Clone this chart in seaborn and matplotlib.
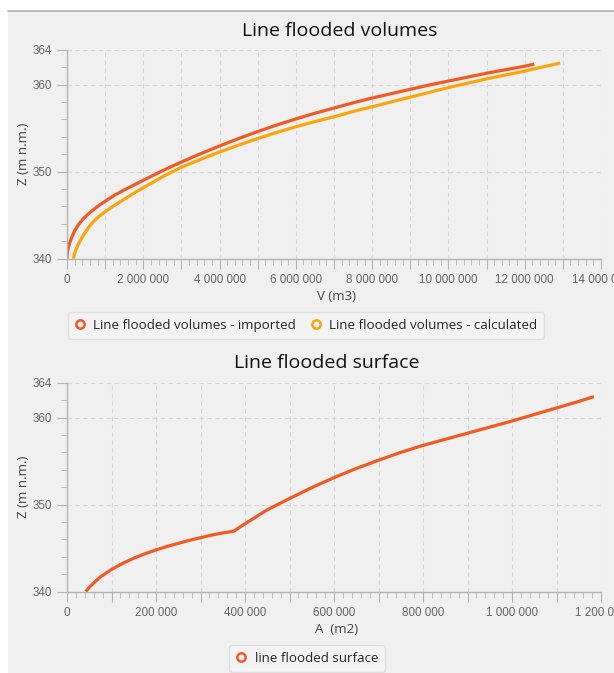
import numpy as np
import pandas as pd
import seaborn as sns
from matplotlib import pyplot as plt
from matplotlib import ticker
from matplotlib.lines import Line2D
from matplotlib.patches import Rectangle

# --- data (V in m3, A in m2, Z in m n.m.) ---
vol_imported_v = [0, 0.01e6, 0.03e6, 0.07e6, 0.12e6, 0.2e6, 0.3e6, 0.42e6, 0.55e6, 0.7e6, 0.85e6,
                  1.0e6, 1.25e6, 1.5e6, 2.0e6, 2.5e6, 3.0e6, 3.5e6, 4.0e6, 4.5e6, 5.0e6, 5.5e6,
                  6.0e6, 6.5e6, 7.0e6, 7.5e6, 8.0e6, 8.5e6, 9.0e6, 9.5e6, 10.0e6, 10.5e6, 11.0e6,
                  11.5e6, 12.0e6, 12.25e6]
vol_imported_z = [340, 340.7, 341.2, 341.8, 342.4, 343.2, 343.9, 344.55, 345.1, 345.65, 346.15,
                  346.6, 347.3, 347.9, 349.0, 350.1, 351.1, 352.05, 352.95, 353.8, 354.6, 355.35,
                  356.05, 356.7, 357.3, 357.9, 358.45, 358.95, 359.45, 359.95, 360.4, 360.85, 361.3,
                  361.7, 362.1, 362.35]

vol_calc_v = [0.172e6, 0.19e6, 0.24e6, 0.3e6, 0.4e6, 0.55e6, 0.7e6, 0.85e6, 1.0e6, 1.2e6, 1.4e6,
              1.6e6, 1.8e6, 2.0e6, 2.5e6, 3.0e6, 3.5e6, 4.0e6, 4.5e6, 5.0e6, 5.5e6, 6.0e6, 6.5e6,
              7.0e6, 7.5e6, 8.0e6, 8.5e6, 9.0e6, 9.5e6, 10.0e6, 10.5e6, 11.0e6, 11.5e6, 12.0e6,
              12.5e6, 12.93e6]
vol_calc_z = [340, 340.5, 341.1, 341.7, 342.5, 343.5, 344.3, 344.9, 345.4, 346.0, 346.55,
              347.1, 347.65, 348.15, 349.4, 350.5, 351.4, 352.25, 353.05, 353.8, 354.5, 355.15, 355.75,
              356.3, 356.9, 357.45, 358.0, 358.55, 359.1, 359.65, 360.15, 360.65, 361.1, 361.55,
              362.05, 362.46]

surf_a = [42e3, 50e3, 60e3, 75e3, 100e3, 125e3, 150e3, 175e3, 200e3, 225e3, 250e3, 275e3, 300e3,
          325e3, 350e3, 375e3, 385e3, 400e3, 425e3, 450e3, 475e3, 500e3, 550e3, 600e3, 650e3,
          700e3, 750e3, 800e3, 850e3, 900e3, 950e3, 1.0e6, 1.05e6, 1.1e6, 1.15e6, 1.184e6]
surf_z = [340, 340.5, 341.0, 341.7, 342.55, 343.25, 343.85, 344.35, 344.8, 345.2, 345.55, 345.9, 346.2,
          346.5, 346.75, 346.95, 347.3, 347.8, 348.6, 349.4, 350.05, 350.7, 351.95, 353.1, 354.15,
          355.1, 356.0, 356.8, 357.5, 358.2, 358.9, 359.6, 360.35, 361.1, 361.85, 362.4]

series_names = ["Line flooded volumes - imported", "Line flooded volumes - calculated"]
surface_name = "line flooded surface"

c_imp = "#f15a24"
c_calc = "#fba50d"
bg = "#f0f0f0"
grid_c = "#d6d6d6"
spine_c = "#b4b4b4"
tick_c = "#666666"

sns.set_style("ticks")
plt.rcParams["font.family"] = ["Liberation Sans", "DejaVu Sans"]

vol = pd.concat([
    pd.DataFrame({"V": vol_imported_v, "Z": vol_imported_z, "serie": series_names[0]}),
    pd.DataFrame({"V": vol_calc_v, "Z": vol_calc_z, "serie": series_names[1]}),
])
surf = pd.DataFrame({"A": surf_a, "Z": surf_z})

W, H = 614, 673
fig = plt.figure(figsize=(W / 100, H / 100), dpi=100, facecolor="white")
fig.patches.append(Rectangle((8 / W, 0), 1, 1 - 11 / H, transform=fig.transFigure,
                             facecolor=bg, edgecolor="none", zorder=-10))
fig.lines.append(Line2D([8 / W, 1], [1 - 11 / H, 1 - 11 / H], transform=fig.transFigure,
                        color="#b0b0b0", lw=1.2))


def space_fmt(step, every):
    def f(x, pos):
        if abs(round(x / step) % every) != 0:
            return ""
        return f"{int(round(x)):,}".replace(",", " ")
    return ticker.FuncFormatter(f)


def style_axes(ax, xmax, xgrid, xminor, label_every):
    ax.set_facecolor(bg)
    ax.set_ylim(340, 364)
    ax.set_xlim(0, xmax)
    ax.set_yticks([340, 350, 360, 364])
    ax.yaxis.set_minor_locator(ticker.MultipleLocator(2))
    ax.xaxis.set_major_locator(ticker.MultipleLocator(xgrid))
    ax.xaxis.set_minor_locator(ticker.MultipleLocator(xminor))
    ax.xaxis.set_major_formatter(space_fmt(xgrid, label_every))
    ax.grid(True, which="major", color=grid_c, linestyle=(0, (4, 3)), linewidth=0.8)
    for s in ["top", "right"]:
        ax.spines[s].set_visible(False)
    for s in ["left", "bottom"]:
        ax.spines[s].set_color(spine_c)
        ax.spines[s].set_linewidth(1.0)
    ax.tick_params(which="major", length=7, color=spine_c, labelsize=8.4, labelcolor=tick_c, pad=4)
    ax.tick_params(which="minor", length=4, color=spine_c)
    ax.set_axisbelow(True)
    for ln in ax.lines:
        ln.set_solid_joinstyle("round")
        ln.set_solid_capstyle("butt")


def add_legend(handles, labels, center, ncol):
    leg = fig.legend(handles, labels, loc="center", bbox_to_anchor=center, ncol=ncol,
                     prop={"family": "Open Sans", "size": 9.6}, frameon=True, fancybox=True,
                     handlelength=0.8, handletextpad=0.6, columnspacing=1.1, borderpad=0.5)
    leg.get_frame().set_facecolor("#f4f4f4")
    leg.get_frame().set_edgecolor("#dcdcdc")
    return leg


def circle(c):
    return Line2D([], [], ls="none", marker="o", markersize=6, markerfacecolor="none",
                  markeredgewidth=1.8, markeredgecolor=c)


# --- top: volumes ---
ax1 = fig.add_axes([67 / W, 1 - 258.7 / H, 534 / W, 209 / H])
sns.lineplot(data=vol, x="V", y="Z", hue="serie", palette=[c_imp, c_calc], sort=False,
             estimator=None, linewidth=2.3, legend=False, ax=ax1)
style_axes(ax1, 14e6, 1e6, 2e5, 2)
ax1.set_xlabel("V (m3)", fontsize=9.5, color="#444444", family="Open Sans")
ax1.set_ylabel("Z (m n.m.)", fontsize=9.5, color="#444444", family="Open Sans")
ax1.xaxis.set_label_coords(0.504, -0.15)
ax1.yaxis.set_label_coords(-0.07, 0.5)
fig.text(340 / W, 1 - 31 / H, "Line flooded volumes", ha="center", va="center",
         fontsize=14, family="Open Sans", color="#111111")
add_legend([circle(c_imp), circle(c_calc)], series_names, (306 / W, 1 - 325.5 / H), 2)

# --- bottom: surface ---
ax2 = fig.add_axes([67 / W, 1 - 591.7 / H, 534 / W, 209 / H])
sns.lineplot(data=surf, x="A", y="Z", color=c_imp, sort=False, estimator=None,
             linewidth=2.3, ax=ax2)
style_axes(ax2, 1.2e6, 1e5, 2e4, 2)
ax2.set_xlabel("A  (m2)", fontsize=9.5, color="#444444", family="Open Sans")
ax2.set_ylabel("Z (m n.m.)", fontsize=9.5, color="#444444", family="Open Sans")
ax2.xaxis.set_label_coords(0.504, -0.15)
ax2.yaxis.set_label_coords(-0.07, 0.5)
fig.text(327 / W, 1 - 363 / H, "Line flooded surface", ha="center", va="center",
         fontsize=14, family="Open Sans", color="#111111")
add_legend([circle(c_imp)], [surface_name], (307 / W, 1 - 658.5 / H), 1)

fig.savefig("out.png", dpi=100, facecolor=fig.get_facecolor())
